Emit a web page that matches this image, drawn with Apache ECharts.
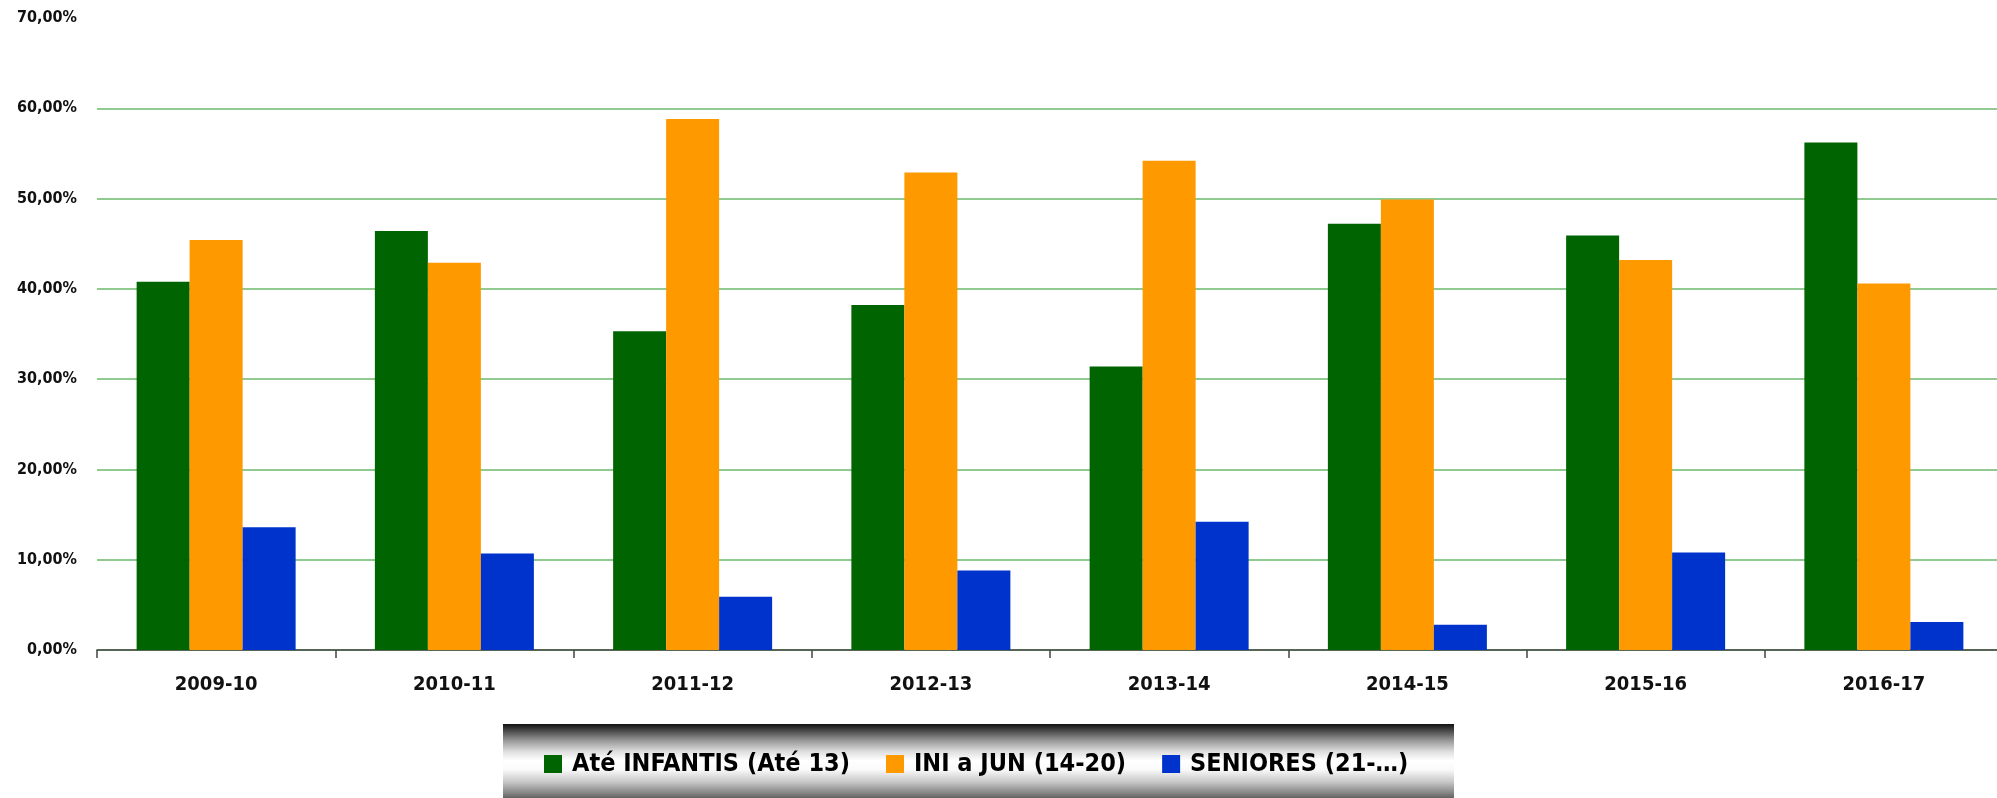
<!DOCTYPE html>
<html>
<head>
<meta charset="utf-8">
<script src="https://cdn.jsdelivr.net/npm/echarts@6/dist/echarts.min.js"></script>
<style>
  html, body { margin: 0; padding: 0; background: #fff; }
  #chart { width: 1997px; height: 798px; }
</style>
</head>
<body>
<div id="chart"></div>
<script>
  // épocas
  var seasons = ['2009-10', '2010-11', '2011-12', '2012-13', '2013-14', '2014-15', '2015-16', '2016-17'];
  // percentagens por escalão
  var infantis = [40.8, 46.4, 35.3, 38.2, 31.4, 47.2, 45.9, 56.2];
  var iniJun = [45.4, 42.9, 58.8, 52.9, 54.2, 49.9, 43.2, 40.6];
  var seniores = [13.6, 10.7, 5.9, 8.8, 14.2, 2.8, 10.8, 3.1];
  var seriesNames = ['Até INFANTIS (Até 13)', 'INI a JUN (14-20)', 'SENIORES (21-…)'];

  var color = ['#006400', '#ff9900', '#0033cc'];
  var gridColor = '#6cb86c';
  var labelFont = '"DejaVu Sans Condensed", "DejaVu Sans"';

  var myChart = echarts.init(document.getElementById('chart'), null, {renderer: 'canvas'});
  var option = {
    animation: false,
    backgroundColor: '#fff',
    color: color,
    grid: {
      left: 97,
      top: 18,
      width: 1906,
      height: 632,
      containLabel: false,
      outerBoundsMode: 'none'
    },
    graphic: [{
      type: 'rect',
      z: 0,
      shape: {x: 503, y: 724, width: 951, height: 76},
      style: {
        fill: new echarts.graphic.LinearGradient(0, 0, 0, 1, [
          {offset: 0, color: '#111'},
          {offset: 0.08, color: '#444'},
          {offset: 0.22, color: '#999'},
          {offset: 0.36, color: '#ddd'},
          {offset: 0.48, color: '#fff'},
          {offset: 0.6, color: '#fafafa'},
          {offset: 0.76, color: '#c8c8c8'},
          {offset: 0.9, color: '#888'},
          {offset: 1, color: '#555'}
        ])
      }
    }],
    legend: {
      show: true,
      z: 10,
      left: 539,
      top: 746,
      itemWidth: 18,
      itemHeight: 18,
      itemGap: 36,
      icon: 'rect',
      textStyle: {
        color: '#000',
        fontFamily: labelFont,
        fontWeight: 'bold',
        fontSize: 25,
        lineHeight: 26,
        padding: [0, 0, 0, 5]
      },
      data: seriesNames
    },
    xAxis: [{
      type: 'category',
      data: seasons,
      axisLine: {
        lineStyle: {color: '#444', width: 1.5}
      },
      axisTick: {
        show: true,
        length: 8,
        lineStyle: {color: '#444', width: 1.5}
      },
      axisLabel: {
        margin: 25,
        color: '#111',
        fontFamily: labelFont,
        fontWeight: 'bold',
        fontSize: 20
      }
    }],
    yAxis: [{
      type: 'value',
      min: 0,
      max: 70,
      interval: 10,
      axisLine: {show: false},
      axisTick: {show: false},
      axisLabel: {
        margin: 20,
        color: '#111',
        fontFamily: labelFont,
        fontWeight: 'bold',
        fontSize: 16,
        formatter: function (v) {
          return v.toFixed(2).replace('.', ',') + '%';
        }
      },
      splitLine: {
        show: true,
        lineStyle: {
          width: 1.5,
          // a linha dos 70% não aparece no original
          color: [gridColor, gridColor, gridColor, gridColor, gridColor, gridColor, gridColor, 'rgba(0,0,0,0)']
        }
      }
    }],
    series: [
      {
        name: seriesNames[0],
        type: 'bar',
        barWidth: 53,
        barGap: 0,
        itemStyle: {color: color[0]},
        data: infantis
      },
      {
        name: seriesNames[1],
        type: 'bar',
        barWidth: 53,
        barGap: 0,
        itemStyle: {color: color[1]},
        data: iniJun
      },
      {
        name: seriesNames[2],
        type: 'bar',
        barWidth: 53,
        barGap: 0,
        itemStyle: {color: color[2]},
        data: seniores
      }
    ]
  };
  myChart.setOption(option, true);
</script>
</body>
</html>
